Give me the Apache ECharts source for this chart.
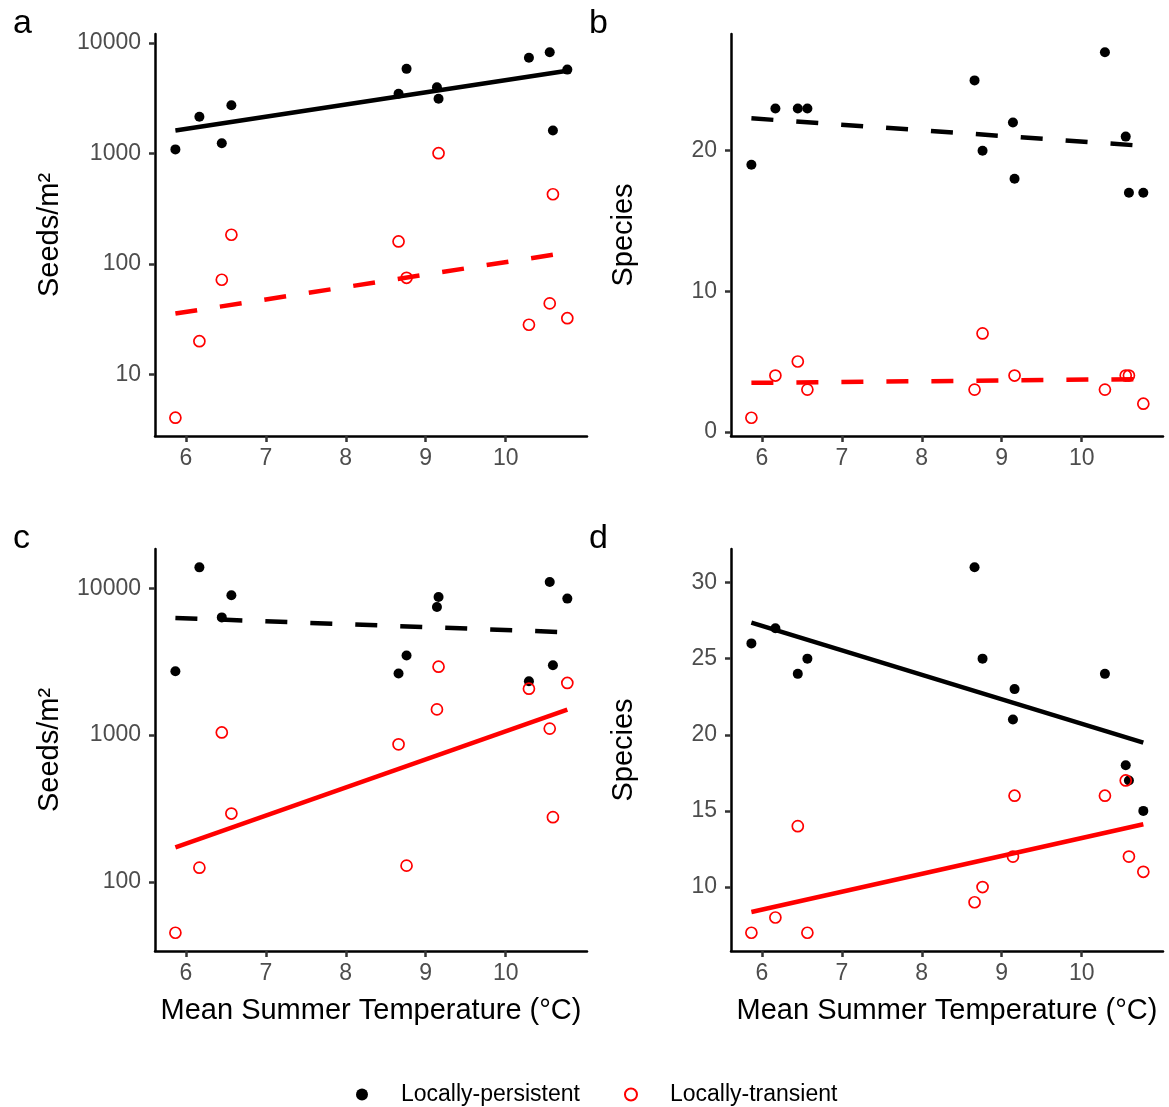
<!DOCTYPE html>
<html>
<head>
<meta charset="utf-8">
<script src="https://cdn.jsdelivr.net/npm/echarts@6/dist/echarts.min.js"></script>
<style>
html, body { margin: 0; padding: 0; background: #fff; }
#chart { width: 1169px; height: 1107px; }
</style>
</head>
<body>
<div id="chart"></div>
<script>
// mean summer temperature of each site (x for every panel)
var temp = [5.87, 6.17, 6.45, 6.57, 8.66, 8.76, 9.14, 9.16, 10.29, 10.55, 10.59, 10.77];

// panel a: seeds/m2
var seedsPersA = [1090, 2150, 1240, 2740, 3470, 5840, 3980, 3130, 7350, 8260, 1615, 5750];
var seedsTransA = [4.06, 20, 72, 184, 160, 75, null, 1007, 28.2, 44, 428, 32.3];
// panel b: species
var sppPersB = [19, 23, 23, 23, 25, 20, 22, 18, 27, 21, 17, 17];
var sppTransB = [1, 4, 5, 3, 3, 7, null, 4, 3, 4, 4, 2];
// panel c: seeds/m2
var seedsPersC = [2720, 13900, 6340, 8960, 2630, 3490, 7460, 8730, 2330, 11040, 2990, 8510];
var seedsTransC = [45, 125, 1043, 292, 865, 129, 1497, 2925, 2071, 1107, 276, 2266];
// panel d: species
var sppPersD = [26, 27, 24, 25, 31, 25, 21, 23, 24, 18, 17, 15];
var sppTransD = [7, 8, 14, 7, 9, 10, 12, 16, 16, 17, 12, 11];

// fitted lines (ends at the lowest and highest temperature)
var fitX = [5.87, 10.77];
var fitPersA = [1615, 5620], fitTransA = [35.6, 127];
var fitPersB = [22.3, 20.34], fitTransB = [3.48, 3.75];
var fitPersC = [6280, 5020], fitTransC = [172, 1490];
var fitPersD = [27.37, 19.49], fitTransD = [8.36, 14.12];

var xTicks = [6, 7, 8, 9, 10];
var logTicksA = [10, 100, 1000, 10000];
var logTicksC = [100, 1000, 10000];
var sppTicksB = [0, 10, 20];
var sppTicksD = [10, 15, 20, 25, 30];

var panelLabels = ['a', 'b', 'c', 'd'];
var seriesNames = ['Locally-persistent', 'Locally-transient'];
var xTitle = 'Mean Summer Temperature (\u00B0C)';

var FONT = 'Liberation Sans, Arial, sans-serif';
var RED = '#FF0000';
var DASH = [22, 23];

var chart = echarts.init(document.getElementById('chart'), null, { renderer: 'canvas' });

var grids = [
  { left: 155, top: 34, width: 432, height: 402 },
  { left: 731, top: 34, width: 432, height: 402 },
  { left: 155, top: 549, width: 432, height: 402 },
  { left: 731, top: 549, width: 432, height: 402 }
];

function xAxisFor(i, named) {
  return {
    type: 'value', gridIndex: i, min: 5.615, max: 11.016,
    name: named ? xTitle : '', nameLocation: 'middle', nameGap: 45,
    nameTextStyle: { fontSize: 29, color: '#000', fontFamily: FONT },
    axisLine: { show: true, onZero: false, lineStyle: { color: '#000', width: 2.5 } },
    axisTick: { show: true, length: 6, customValues: xTicks, lineStyle: { color: '#333', width: 2.5 } },
    axisLabel: { customValues: xTicks, margin: 11, fontSize: 23, color: '#4D4D4D', fontFamily: FONT },
    splitLine: { show: false }
  };
}

function yAxisFor(i, type, min, max, ticks, name, gap) {
  return {
    type: type, gridIndex: i, min: min, max: max, logBase: 10,
    name: name, nameLocation: 'middle', nameGap: gap,
    nameTextStyle: { fontSize: 29, color: '#000', fontFamily: FONT },
    axisLine: { show: true, onZero: false, lineStyle: { color: '#000', width: 2.5 } },
    axisTick: { show: true, length: 6, customValues: ticks, lineStyle: { color: '#333', width: 2.5 } },
    axisLabel: {
      customValues: ticks, margin: 14, fontSize: 23, color: '#4D4D4D', fontFamily: FONT,
      formatter: function (v) { return String(Math.round(v)); }
    },
    splitLine: { show: false }
  };
}

function pts(vals) {
  var out = [];
  temp.forEach(function (t, k) { if (vals[k] != null) out.push([t, vals[k]]); });
  return out;
}

function scatter(i, vals, persistent) {
  return {
    type: 'scatter', name: persistent ? seriesNames[0] : seriesNames[1],
    xAxisIndex: i, yAxisIndex: i, data: pts(vals), z: persistent ? 2 : 3,
    symbol: 'circle', symbolSize: persistent ? 10 : 11,
    itemStyle: persistent
      ? { color: '#000', opacity: 1 }
      : { color: 'rgba(0,0,0,0)', borderColor: RED, borderWidth: 1.7, opacity: 1 }
  };
}

function fit(i, vals, color, dashed) {
  return {
    type: 'line', name: 'fit', xAxisIndex: i, yAxisIndex: i, z: 4,
    data: fitX.map(function (x, k) { return [x, vals[k]]; }),
    symbol: 'none', silent: true,
    lineStyle: { color: color, width: 4.5, type: dashed ? DASH : 'solid', cap: 'butt' }
  };
}

var option = {
  backgroundColor: '#ffffff',
  animation: false,
  textStyle: { fontFamily: FONT },
  title: panelLabels.map(function (t, i) {
    return {
      text: t, left: i % 2 === 0 ? 8 : 584, top: i < 2 ? 2 : 517,
      textStyle: { fontSize: 34, fontWeight: 'normal', color: '#000', fontFamily: FONT }
    };
  }),
  legend: {
    data: seriesNames, left: 351, top: 1078, itemWidth: 12, itemHeight: 12, itemGap: 44,
    textStyle: { fontSize: 23, color: '#000', fontFamily: FONT, padding: [0, 0, 0, 28] }
  },
  grid: grids,
  xAxis: [xAxisFor(0, false), xAxisFor(1, false), xAxisFor(2, true), xAxisFor(3, true)],
  yAxis: [
    yAxisFor(0, 'log', 2.773, 12078, logTicksA, 'Seeds/m\u00B2', 91),
    yAxisFor(1, 'value', -0.3, 28.3, sppTicksB, 'Species', 93),
    yAxisFor(2, 'log', 33.8, 18535, logTicksC, 'Seeds/m\u00B2', 91),
    yAxisFor(3, 'value', 5.8, 32.2, sppTicksD, 'Species', 93)
  ],
  series: [
    scatter(0, seedsPersA, true), scatter(0, seedsTransA, false),
    fit(0, fitPersA, '#000', false), fit(0, fitTransA, RED, true),
    scatter(1, sppPersB, true), scatter(1, sppTransB, false),
    fit(1, fitPersB, '#000', true), fit(1, fitTransB, RED, true),
    scatter(2, seedsPersC, true), scatter(2, seedsTransC, false),
    fit(2, fitPersC, '#000', true), fit(2, fitTransC, RED, false),
    scatter(3, sppPersD, true), scatter(3, sppTransD, false),
    fit(3, fitPersD, '#000', false), fit(3, fitTransD, RED, false)
  ]
};

chart.setOption(option);
</script>
</body>
</html>
